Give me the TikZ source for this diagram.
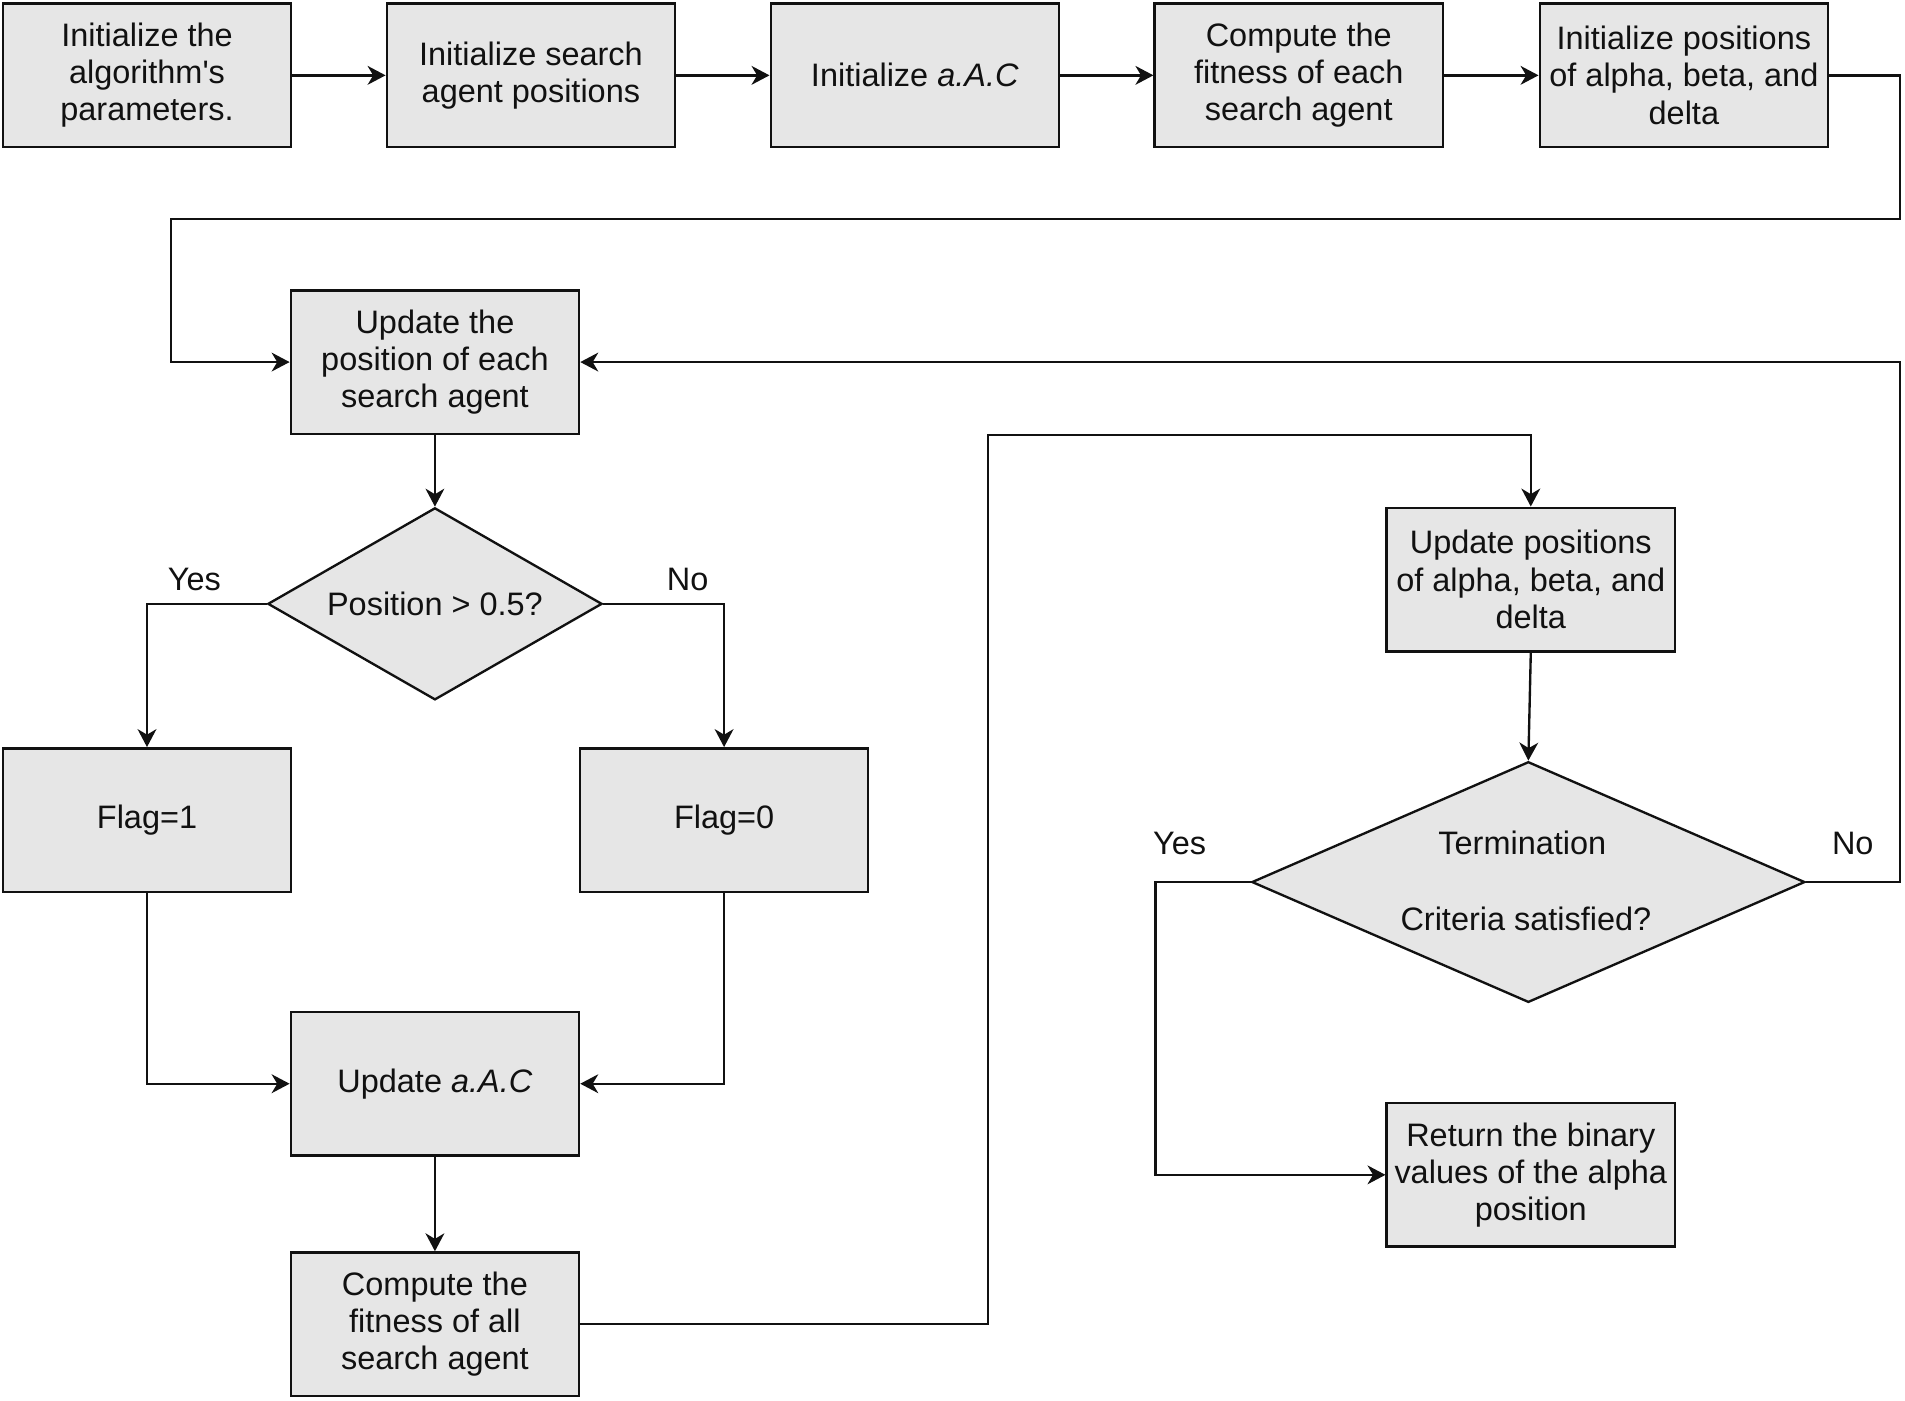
\documentclass[tikz,border=0pt]{standalone}
\usepackage{fontspec}
\setmainfont{Liberation Sans}
\usetikzlibrary{shapes.geometric,arrows.meta}
\definecolor{boxfill}{HTML}{E6E6E6}
\definecolor{ink}{HTML}{111111}
\begin{document}
\begin{tikzpicture}[x=0.01cm,y=-0.01cm,
  every node/.style={font=\fontsize{7.6pt}{8.7pt}\selectfont, text=ink},
  procbox/.style={draw=ink, fill=boxfill, line width=0.6pt, minimum width=2.37cm, minimum height=1.18cm, inner sep=0pt, align=center},
  decision/.style={draw=ink, fill=boxfill, line width=0.55pt, diamond, inner sep=0pt, align=center},
  arr/.style={draw=ink, line width=0.55pt, -{Stealth[length=4.2pt,width=4.4pt,inset=1.3pt]}},
  lbl/.style={inner sep=0pt}]
\useasboundingbox (0,0) rectangle (1568,1153);
% top row
\node[procbox] (b1) at (121,62) {Initialize the\\algorithm\textquotesingle s\\parameters.};
\node[procbox] (b2) at (437,62) {Initialize search\\agent positions};
\node[procbox] (b3) at (753,62) {Initialize \textit{a.A.C}};
\node[procbox] (b4) at (1069,62) {Compute the\\fitness of each\\search agent};
\node[procbox] (b5) at (1386,62) {Initialize positions\\of alpha, beta, and\\delta};
% left column
\node[procbox] (up) at (358,298) {Update the\\position of each\\search agent};
\node[decision, minimum width=2.75cm, minimum height=1.58cm] (d1) at (358,497) {};
\node[lbl] (d1t) at (358,497) {Position > 0.5?};
\node[procbox] (f1) at (121,675) {Flag=1};
\node[procbox] (f0) at (596,675) {Flag=0};
\node[procbox] (ua) at (358,892) {Update \textit{a.A.C}};
\node[procbox] (cf) at (358,1090) {Compute the\\fitness of all\\search agent};
% right column
\node[procbox] (upa) at (1260,477) {Update positions\\of alpha, beta, and\\delta};
\node[decision, minimum width=4.55cm, minimum height=1.98cm] (d2) at (1258,726) {};
\node[lbl] (d2a) at (1253,694) {Termination};
\node[lbl] (d2b) at (1256,756) {Criteria satisfied?};
\node[procbox] (ret) at (1260,967) {Return the binary\\values of the alpha\\position};
% labels
\node[lbl] (y1) at (160,477) {Yes};
\node[lbl] (n1) at (566,477) {No};
\node[lbl] (y2) at (971,694) {Yes};
\node[lbl] (n2) at (1525,694) {No};
% corner coordinates
\coordinate (c1) at (1564,180);
\coordinate (c2) at (141,298);
\coordinate (c3) at (813,1090);
\coordinate (c4) at (1260,358);
\coordinate (c5) at (1564,726);
\coordinate (c6) at (951,967);
% connectors
\draw[arr] (b1) -- (b2);
\draw[arr] (b2) -- (b3);
\draw[arr] (b3) -- (b4);
\draw[arr] (b4) -- (b5);
\draw[arr] (b5.east) -| (c1) -| (c2) -- (up.west);
\draw[arr] (up) -- (d1);
\draw[arr] (d1.west) -| (f1.north);
\draw[arr] (d1.east) -| (f0.north);
\draw[arr] (f1.south) |- (ua.west);
\draw[arr] (f0.south) |- (ua.east);
\draw[arr] (ua) -- (cf);
\draw[arr] (cf.east) -| (c3) |- (c4) -- (upa.north);
\draw[arr] (upa.south) -- (d2.north);
\draw[arr] (d2.east) -| (c5) |- (up.east);
\draw[arr] (d2.west) -| (c6) -- (ret.west);
\end{tikzpicture}
\end{document}
